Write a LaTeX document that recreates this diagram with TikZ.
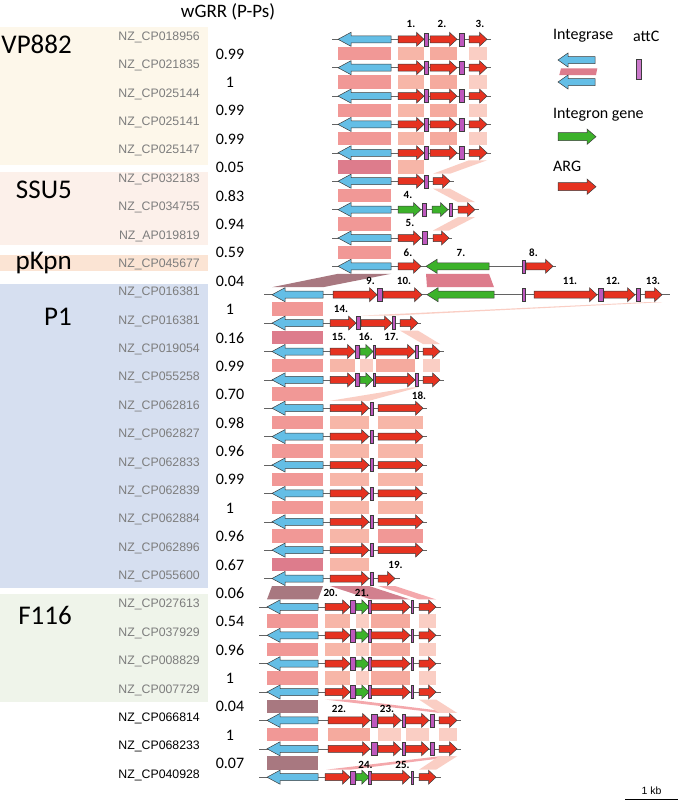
\documentclass[tikz,border=0pt]{standalone}
\usepackage{fontspec}
\setmainfont{Carlito}
\newfontfamily\arialf{Liberation Sans}
\definecolor{intblue}{RGB}{100,190,230}
\definecolor{argred}{RGB}{230,50,32}
\definecolor{intgreen}{RGB}{60,178,42}
\definecolor{attcol}{RGB}{190,88,190}
\definecolor{outl}{RGB}{60,60,60}
\definecolor{bI}{RGB}{241,152,150}
\definecolor{bG}{RGB}{247,182,168}
\definecolor{bG2}{RGB}{245,170,158}
\definecolor{bL}{RGB}{250,206,196}
\definecolor{bD}{RGB}{221,124,140}
\definecolor{bM}{RGB}{168,120,128}
\definecolor{bP}{RGB}{210,128,142}
\definecolor{bP2}{RGB}{244,168,172}
\definecolor{vpbg}{RGB}{253,247,234}
\definecolor{ssbg}{RGB}{252,240,234}
\definecolor{pkbg}{RGB}{251,228,212}
\definecolor{p1bg}{RGB}{214,223,240}
\definecolor{fbg}{RGB}{239,244,234}
\definecolor{nzgray}{RGB}{125,125,125}
\tikzset{
  gene/.style={draw=outl,line width=0.5pt,line join=miter},
  attc/.style={draw=outl,line width=0.4pt,fill=attcol},
  backbone/.style={draw=outl!80,line width=0.5pt},
  glab/.style={font=\fontsize{11}{12}\selectfont\bfseries,inner sep=0pt},
  nzlab/.style={font=\arialf\fontsize{12.3}{13}\selectfont,text=nzgray,anchor=east,inner sep=0pt},
  vallab/.style={font=\fontsize{16}{17}\selectfont,inner sep=0pt},
  grouplab/.style={font=\fontsize{27}{28}\selectfont,anchor=east,inner sep=0pt},
  leglab/.style={font=\fontsize{16}{17}\selectfont,anchor=west,inner sep=0pt}
}
\newcommand\gR[4]{\pgfmathsetmacro\hl{min(7.5,0.55*(#2-#1))}\filldraw[gene,fill=#4] (#1,#3-3.5) -- ({#2-\hl},#3-3.5) -- ({#2-\hl},#3-7) -- (#2,#3) -- ({#2-\hl},#3+7) -- ({#2-\hl},#3+3.5) -- (#1,#3+3.5) -- cycle;}
\newcommand\gL[5]{\filldraw[gene,fill=#4] (#2,#3-3.5) -- ({#1+#5},#3-3.5) -- ({#1+#5},#3-7) -- (#1,#3) -- ({#1+#5},#3+7) -- ({#1+#5},#3+3.5) -- (#2,#3+3.5) -- cycle;}
\newcommand\att[3]{\filldraw[attc] (#1,#3-6.5) rectangle (#2,#3+6.5);}
\newcommand\bbline[3]{\draw[backbone] (#1,#3) -- (#2,#3);}
\newcommand\band[6]{\fill[#6] (#2,#1+7.5) -- (#3,#1+7.5) -- (#5,#1+20.9) -- (#4,#1+20.9) -- cycle;}
\newcommand\sband[4]{\band{#1}{#2}{#3}{#2}{#3}{#4}}
% track types
\newcommand\trA[1]{\bbline{332}{491}{#1}\gL{338}{391}{#1}{intblue}{13}\gR{398}{424}{#1}{argred}\att{424.5}{428}{#1}\gR{430}{457}{#1}{argred}\att{459}{464}{#1}\gR{469}{487}{#1}{argred}}
\newcommand\trB[1]{\bbline{264}{444}{#1}\gL{272}{323}{#1}{intblue}{13}\gR{330}{355}{#1}{argred}\att{355}{359.5}{#1}\gR{360}{373}{#1}{intgreen}\att{372.7}{375.5}{#1}\gR{375.5}{415}{#1}{argred}\att{415}{418}{#1}\gR{423}{440}{#1}{argred}}
\newcommand\trC[1]{\bbline{264}{427}{#1}\gL{272}{323}{#1}{intblue}{13}\gR{330}{369}{#1}{argred}\att{370}{373.5}{#1}\gR{378}{423}{#1}{argred}}
\newcommand\trD[1]{\bbline{259}{441}{#1}\gL{267}{318}{#1}{intblue}{13}\gR{325}{350}{#1}{argred}\att{350}{355}{#1}\gR{356}{369}{#1}{intgreen}\att{368.5}{371}{#1}\gR{371}{410}{#1}{argred}\att{410.7}{413.3}{#1}\gR{419}{436}{#1}{argred}}
\newcommand\trE[1]{\bbline{259}{461}{#1}\gL{267}{318}{#1}{intblue}{13}\gR{328}{370}{#1}{argred}\att{371}{376.7}{#1}\gR{378}{401}{#1}{argred}\att{402.3}{405}{#1}\gR{405.5}{429}{#1}{argred}\att{430}{434}{#1}\gR{439}{457}{#1}{argred}}
\begin{document}
\begin{tikzpicture}[x=1pt,y=-1pt]
\useasboundingbox (0,0) rectangle (680,801);
\fill[white] (0,0) rectangle (680,801);
% group backgrounds
\fill[vpbg] (0,27) rectangle (208,165);
\fill[ssbg] (0,172) rectangle (208,245);
\fill[pkbg] (0,255) rectangle (208,271);
\fill[p1bg] (0,284) rectangle (208,588);
\fill[fbg] (0,594) rectangle (208,702);
% title
\node[font=\fontsize{19}{20}\selectfont,inner sep=0pt] (title) at (228,12) {wGRR (P-Ps)};
% group labels
\node[grouplab] (gVP) at (72,44) {VP882};
\node[grouplab] (gSS) at (72,190) {SSU5};
\node[grouplab] (gPK) at (72,263) {pKpn};
\node[grouplab] (gP1) at (72,317) {P1};
\node[grouplab] (gF) at (72,615) {F116};
% accession labels
\foreach \i/\yy/\t in {0/39.3/NZ\_CP018956,1/67.7/NZ\_CP021835,2/96.1/NZ\_CP025144,3/124.4/NZ\_CP025141,4/152.8/NZ\_CP025147,5/181.2/NZ\_CP032183,6/209.6/NZ\_CP034755,7/238.0/NZ\_AP019819,8/266.3/NZ\_CP045677,9/294.7/NZ\_CP016381,10/323.1/NZ\_CP016381,11/351.5/NZ\_CP019054,12/379.9/NZ\_CP055258,13/408.2/NZ\_CP062816,14/436.6/NZ\_CP062827,15/465.0/NZ\_CP062833,16/493.4/NZ\_CP062839,17/521.8/NZ\_CP062884,18/550.1/NZ\_CP062896,19/578.5/NZ\_CP055600,20/606.9/NZ\_CP027613,21/635.3/NZ\_CP037929,22/663.7/NZ\_CP008829,23/692.0/NZ\_CP007729}
  \node[nzlab] (acc\i) at (200,\yy-2) {\t};
\foreach \i/\yy/\t in {24/720.4/NZ\_CP066814,25/748.8/NZ\_CP068233,26/777.2/NZ\_CP040928}
  \node[nzlab,text=black] (acc\i) at (200,\yy-2) {\t};
% wGRR values
\foreach \i/\yy/\v in {0/53.5/0.99,1/81.9/1,2/110.3/0.99,3/138.6/0.99,4/167.0/0.05,5/195.4/0.83,6/223.8/0.94,7/252.2/0.59,8/280.5/0.04,9/308.9/1,10/337.3/0.16,11/365.7/0.99,12/394.1/0.70,13/422.4/0.98,14/450.8/0.96,15/479.2/0.99,16/507.6/1,17/536.0/0.96,18/564.3/0.67,19/592.7/0.06,20/621.1/0.54,21/649.5/0.96,22/677.9/1,23/706.2/0.04,24/734.6/1,25/763.0/0.07}
  \node[vallab] (val\i) at (230,\yy+0.5) {\v};
% ---------- homology bands ----------
\foreach \yy in {39.3,67.7,96.1,124.4}{\sband{\yy}{338}{391}{bI}\sband{\yy}{398}{424}{bG}\sband{\yy}{430}{457}{bG2}\sband{\yy}{469}{487}{bL}}
\sband{152.8}{338}{391}{bD}\sband{152.8}{398}{424}{bG}\band{152.8}{469}{487}{433}{450}{bL}
\sband{181.2}{338}{391}{bI}\band{181.2}{433}{450}{458}{475}{bL}
\sband{209.6}{338}{391}{bI}\band{209.6}{458}{475}{433}{449}{bL}
\sband{238.0}{338}{391}{bI}
\band{266.3}{338}{391}{272}{323}{bM}\band{266.3}{426}{489}{427}{494}{bD}
\sband{294.7}{272}{323}{bI}\band{294.7}{645}{662}{361}{392}{bL}
\sband{323.1}{272}{323}{bD}\band{323.1}{400}{418}{423}{440}{bL}
\sband{351.5}{272}{323}{bI}\sband{351.5}{330}{355}{bG}\sband{351.5}{360}{373}{bL}\sband{351.5}{375.5}{415}{bG2}\sband{351.5}{423}{440}{bL}
\sband{379.9}{272}{323}{bI}\band{379.9}{412}{418}{330}{369}{bL}
\foreach \yy in {408.2,436.6,465.0,493.4}{\sband{\yy}{272}{323}{bI}\sband{\yy}{330}{369}{bG}\sband{\yy}{378}{423}{bG}}
\sband{521.8}{272}{323}{bI}\sband{521.8}{330}{369}{bG}\sband{521.8}{378}{423}{bI}
\sband{550.1}{272}{323}{bD}\sband{550.1}{330}{369}{bG}
\band{578.5}{272}{323}{267}{318}{bM}\band{578.5}{330}{369}{371}{410}{bP}\band{578.5}{378}{395}{419}{436}{bP2}
\foreach \yy in {606.9,635.3,663.7}{\sband{\yy}{267}{318}{bI}\sband{\yy}{325}{350}{bG}\sband{\yy}{356}{369}{bL}\sband{\yy}{371}{410}{bG2}\sband{\yy}{419}{436}{bL}}
\sband{692.0}{267}{318}{bM}\band{692.0}{325}{350}{439}{457}{bP2}\band{692.0}{419}{436}{439}{457}{bL}
\sband{720.4}{267}{318}{bI}\sband{720.4}{328}{370}{bG2}\sband{720.4}{378}{401}{bL}\sband{720.4}{405.5}{429}{bL}\sband{720.4}{439}{457}{bL}
\sband{748.8}{267}{318}{bM}\band{748.8}{439}{457}{326}{350}{bP2}\band{748.8}{439}{457}{419}{436}{bL}
% ---------- tracks ----------
\trA{39.3}\trA{67.7}\trA{96.1}\trA{124.4}\trA{152.8}
% row 5
\bbline{332}{454}{181.2}\gL{338}{391}{181.2}{intblue}{13}\gR{398}{424}{181.2}{argred}\att{424.5}{428}{181.2}\gR{433}{450}{181.2}{argred}
% row 6
\bbline{332}{479}{209.6}\gL{338}{391}{209.6}{intblue}{13}\gR{398}{421}{209.6}{intgreen}\att{422}{426.5}{209.6}\gR{432}{448}{209.6}{intgreen}\att{449.5}{452.5}{209.6}\gR{458}{475}{209.6}{argred}
% row 7
\bbline{332}{452}{238.0}\gL{338}{391}{238.0}{intblue}{13}\gR{398}{421}{238.0}{argred}\att{422.5}{427}{238.0}\gR{433}{449}{238.0}{argred}
% row 8
\bbline{332}{556}{266.3}\gL{338}{391}{266.3}{intblue}{13}\gR{398}{421}{266.3}{argred}\gL{426}{489}{266.3}{intgreen}{11}\att{521.7}{525}{266.3}\gR{526}{553}{266.3}{argred}
% row 9
\bbline{264}{670}{294.7}\gL{272}{323}{294.7}{intblue}{13}\gR{333}{377}{294.7}{argred}\att{377}{382}{294.7}\gR{383}{422}{294.7}{argred}\gL{427}{494}{294.7}{intgreen}{11}\att{522}{525}{294.7}\gR{534}{597}{294.7}{argred}\att{598}{603}{294.7}\gR{604}{635}{294.7}{argred}\att{636}{640}{294.7}\gR{645}{662}{294.7}{argred}
% row 10
\bbline{264}{421}{323.1}\gL{272}{323}{323.1}{intblue}{13}\gR{330}{356}{323.1}{argred}\att{356.5}{360}{323.1}\gR{361}{392}{323.1}{argred}\att{392.3}{395.5}{323.1}\gR{400}{418}{323.1}{argred}
\trB{351.5}\trB{379.9}
\trC{408.2}\trC{436.6}\trC{465.0}\trC{493.4}\trC{521.8}\trC{550.1}
% row 19
\bbline{264}{400}{578.5}\gL{272}{323}{578.5}{intblue}{13}\gR{330}{369}{578.5}{argred}\att{370}{373.5}{578.5}\gR{378}{395}{578.5}{argred}
\trD{606.9}\trD{635.3}\trD{663.7}\trD{692.0}
\trE{720.4}\trE{748.8}
\trD{777.2}
% ---------- gene labels ----------
\foreach \n/\x/\yy in {1/411/24,2/442/24,3/480/24,4/408/195,5/410/223,6/408/253,7/461/253,8/533.5/253,9/370.5/281,10/404/281,11/570/281,12/613/281,13/653/281,14/341/309,15/339/337,16/365.7/337,17/391.5/337,18/419/396,19/395.5/565,20/330.7/593,21/362/593,22/339/709,23/387/709,24/365.5/765,25/402.5/765}
  \node[glab] (lab\n) at (\x,\yy) {\n.};
% ---------- legend ----------
\node[leglab] (legInt) at (553,36) {Integrase};
\node[leglab] (legAtt) at (633,36) {attC};
\gL{558}{595}{60}{intblue}{10}
\fill[bD] (561,68.3) -- (597.3,68.3) -- (596,75) -- (559.3,75) -- cycle;
\gL{558}{595}{82}{intblue}{10}
\filldraw[attc,fill=attcol!80!white] (636,59.3) rectangle (640.7,79.3);
\node[leglab] (legIG) at (553,114.3) {Integron gene};
\filldraw[gene,fill=intgreen] (558,132.7) -- (587,132.7) -- (587,129) -- (596,136.7) -- (587,144.4) -- (587,140.7) -- (558,140.7) -- cycle;
\node[leglab] (legARG) at (553,166.7) {ARG};
\filldraw[gene,fill=argred] (558,182.7) -- (587,182.7) -- (587,179) -- (596,186.7) -- (587,194.4) -- (587,190.7) -- (558,190.7) -- cycle;
% ---------- scale bar ----------
\coordinate (sbA) at (625,799);
\coordinate (sbB) at (678,799);
\draw[line width=0.7pt] (sbA) -- (sbB);
\node[font=\arialf\fontsize{10.5}{11}\selectfont,inner sep=0pt] (sbl) at (651.5,791) {1 kb};
\end{tikzpicture}
\end{document}
